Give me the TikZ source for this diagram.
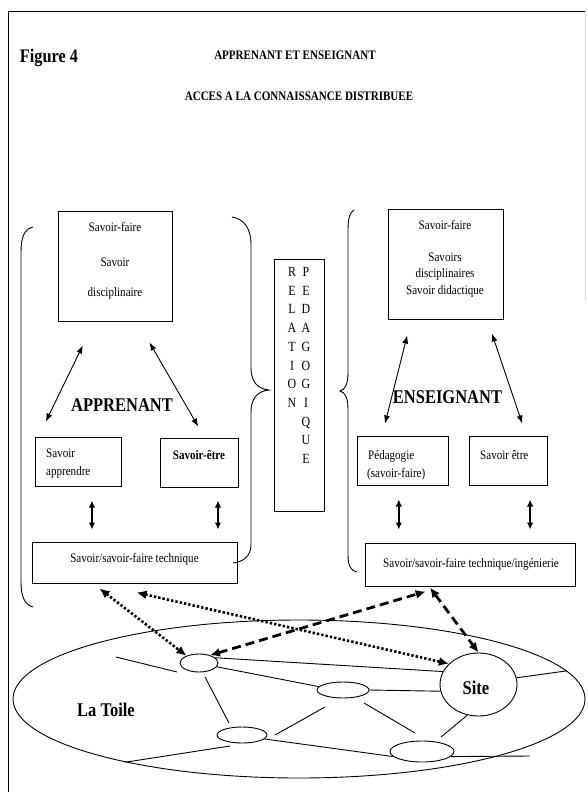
\documentclass[tikz,border=0pt]{standalone}
\usepackage{fontspec}
\setmainfont{Liberation Serif}[FakeStretch=0.85]
\usetikzlibrary{arrows.meta,shapes.geometric,calc}
\begin{document}
\begin{tikzpicture}[x=1pt,y=-1pt,
  box/.style={draw, line width=1pt, inner sep=0pt},
  txt/.style={inner sep=0pt, text depth=0pt, font=\fontsize{13}{15}\selectfont},
  btxt/.style={inner sep=0pt, text depth=0pt, font=\bfseries\fontsize{13}{15}\selectfont},
  bigtxt/.style={inner sep=0pt, text depth=0pt, font=\bfseries\fontsize{19.4}{22}\selectfont},
  ltr/.style={inner sep=0pt, text depth=0pt, font=\fontsize{14}{16}\selectfont},
  tarrow/.style={line width=0.9pt, {Latex[length=8pt,width=6pt]}-{Latex[length=8pt,width=6pt]}},
  dbl/.style={line width=1.4pt, {Latex[length=7pt,width=6.5pt]}-{Latex[length=7pt,width=6.5pt]}},
  dotarrow/.style={line width=2.6pt, dash pattern=on 2.4pt off 2pt, {Latex[length=10pt,width=9pt]}-{Latex[length=10pt,width=9pt]}},
  dasharrow/.style={line width=2.8pt, dash pattern=on 9pt off 5pt, {Latex[length=10pt,width=9pt]}-{Latex[length=10pt,width=9pt]}},
  web/.style={line width=0.9pt},
  ell/.style={draw, ellipse, line width=0.9pt, inner sep=0pt},
  brace/.style={line width=0.9pt}]
\useasboundingbox (0,0) rectangle (587,792);
\fill[white] (0,0) rectangle (587,792);

% frame
\draw[line width=0.9pt] (8,792) -- (8,11) -- (585,11);
\draw[gray!30, line width=0.6pt] (585,11) -- (585,300);

% titles
\node[inner sep=0pt, text depth=0pt, font=\bfseries\fontsize{19.2}{22}\selectfont] (fig) at (49,56) {Figure 4};
\node[btxt] (t1) at (295,55) {APPRENANT ET ENSEIGNANT};
\node[btxt] (t2) at (299,96) {ACCES A LA CONNAISSANCE DISTRIBUEE};

% boxes
\node[box, minimum width=114pt, minimum height=110pt] (TL) at (115,266) {};
\node[box, minimum width=115pt, minimum height=110pt] (TR) at (445.5,264) {};
\node[box, minimum width=86pt, minimum height=49pt] (SA) at (78,461.5) {};
\node[box, minimum width=78pt, minimum height=49pt] (SE) at (199,462.5) {};
\node[box, minimum width=91pt, minimum height=49pt] (PE) at (402.5,460.5) {};
\node[box, minimum width=78pt, minimum height=49pt] (SR) at (508,460.5) {};
\node[box, minimum width=205pt, minimum height=41pt] (LT) at (134.5,562.5) {};
\node[box, minimum width=210pt, minimum height=43pt] (RT) at (470,564.5) {};
\node[box, minimum width=50pt, minimum height=252pt] (REL) at (299,385) {};

% box texts
\node[txt] (tl1) at (115,227) {Savoir-faire};
\node[txt] (tl2) at (115,262) {Savoir};
\node[txt] (tl3) at (115,292) {disciplinaire};
\node[txt] (tr1) at (445,225) {Savoir-faire};
\node[txt] (tr2) at (445,257) {Savoirs};
\node[txt] (tr3) at (445,273) {disciplinaires};
\node[txt] (tr4) at (445,290) {Savoir didactique};
\node[txt, anchor=west] (sa1) at (46,453) {Savoir};
\node[txt, anchor=west] (sa2) at (46,471) {apprendre};
\node[btxt] (se1) at (199,455) {Savoir-être};
\node[txt, anchor=west] (pe1) at (368,455) {Pédagogie};
\node[txt, anchor=west] (pe2) at (367,473) {(savoir-faire)};
\node[txt, anchor=west] (sr1) at (480,455) {Savoir être};
\node[txt] (lt1) at (134.5,558) {Savoir/savoir-faire technique};
\node[txt] (rt1) at (471,563) {Savoir/savoir-faire technique/ingénierie};

% relation letters
\foreach \l [count=\i from 0] in {R,E,L,A,T,I,O,N}
  \node[ltr] (ra\i) at (292,272+18.7*\i) {\l};
\foreach \l [count=\i from 0] in {P,E,D,A,G,O,G,I,Q,U,E}
  \node[ltr] (rb\i) at (306,272+18.7*\i) {\l};

% big labels
\node[bigtxt] (app) at (122,405) {APPRENANT};
\node[bigtxt] (ens) at (447.5,397) {ENSEIGNANT};

% braces
\draw[brace] (33,227) .. controls (24,229) and (21,238) .. (21,252) -- (21,582) .. controls (21,597) and (25,605) .. (33,607);
\draw[brace] (232,217) .. controls (244,219) and (251,228) .. (251,245) -- (251,368) .. controls (251,382) and (258,389) .. (269,390) .. controls (258,391) and (251,398) .. (251,412) -- (251,545) .. controls (251,556) and (243,562) .. (233,563);
\draw[brace] (354,210) .. controls (350,212) and (348,218) .. (348,230) -- (348,373) .. controls (348,384) and (345,390) .. (340,391) .. controls (345,392) and (348,398) .. (348,409) -- (348,555) .. controls (348,566) and (351,571) .. (357,572);

% arrows top-box to lower boxes
\draw[tarrow] ($(TL.south west)!0.22!(TL.south east)+(0,24)$) -- ($(SA.north west)!0.13!(SA.north east)+(0,-15)$);
\draw[tarrow] ($(TL.south west)!0.80!(TL.south east)+(0,21)$) -- ($(SE.north west)!0.49!(SE.north east)+(0,-11)$);
\draw[tarrow] ($(TR.south west)!0.17!(TR.south east)+(0,16)$) -- ($(PE.north west)!0.31!(PE.north east)+(0,-12)$);
\draw[tarrow] ($(TR.south west)!0.90!(TR.south east)+(0,14)$) -- ($(SR.north west)!0.68!(SR.north east)+(0,-12)$);

% vertical double arrows
\coordinate (d1) at ($(SA.south west)!0.66!(SA.south east)$);
\coordinate (d2) at ($(SE.south west)!0.74!(SE.south east)$);
\coordinate (d3) at ($(PE.south west)!0.46!(PE.south east)$);
\coordinate (d4) at ($(SR.south west)!0.78!(SR.south east)$);
\draw[dbl, shorten <=14pt, shorten >=12pt] (d1) -- (d1 |- LT.north);
\draw[dbl, shorten <=13pt, shorten >=12pt] (d2) -- (d2 |- LT.north);
\draw[dbl, shorten <=14pt, shorten >=13pt] (d3) -- (d3 |- RT.north);
\draw[dbl, shorten <=14pt, shorten >=13pt] (d4) -- (d4 |- RT.north);

% the web
\node[ell, minimum width=572pt, minimum height=158pt] (W) at (299,699) {};
\node[ell, minimum width=38pt, minimum height=18pt] (A) at (199,663) {};
\node[ell, minimum width=50pt, minimum height=16pt] (B) at (242,735) {};
\node[ell, minimum width=52pt, minimum height=16pt] (C) at (343,690) {};
\node[ell, minimum width=64pt, minimum height=21pt] (D) at (422,751.5) {};
\node[ell, minimum width=77pt, minimum height=63pt] (Site) at (478.5,684.5) {};
\node[bigtxt] (sitelbl) at (476,688) {Site};
\node[bigtxt] (toile) at (106,710) {La Toile};

\coordinate (stubA) at (116,657);
\coordinate (stubD) at (530,756);
\draw[web] (stubA) -- ($(A)+(-22,9)$);
\draw[web] (A.18) -- (Site.160);
\draw[web] (A.-12) -- (C.172);
\draw[web] (C.east) -- (Site.190);
\draw[web] (Site.10) -- (W.6);
\draw[web] (W.200) -- ($(B)+(-12,11)$);
\draw[web] ($(B)+(33,0)$) -- ($(C)+(-18,17)$);
\draw[web] (B.-10) -- (D.190);
\draw[web] (D.-10) -- (stubD);
\draw[web] ($(C)+(21,13)$) -- ($(D)+(-7,-18.5)$);
\draw[web] (Site.-110) -- ($(D)+(19,-14.5)$);
\draw[web] ($(A)+(6,14)$) -- ($(B)+(-13,-12)$);

% access arrows
\draw[dotarrow] ($(LT.south west)!0.33!(LT.south east)+(0,5)$) -- (A.150);
\draw[dotarrow] ($(LT.south west)!0.51!(LT.south east)+(0,9)$) -- (Site.145);
\draw[dasharrow] (A.35) -- ($(RT.south west)!0.29!(RT.south east)+(0,5)$);
\draw[dasharrow] ($(RT.south west)!0.31!(RT.south east)+(0,1)$) -- (Site.north);
\end{tikzpicture}
\end{document}
